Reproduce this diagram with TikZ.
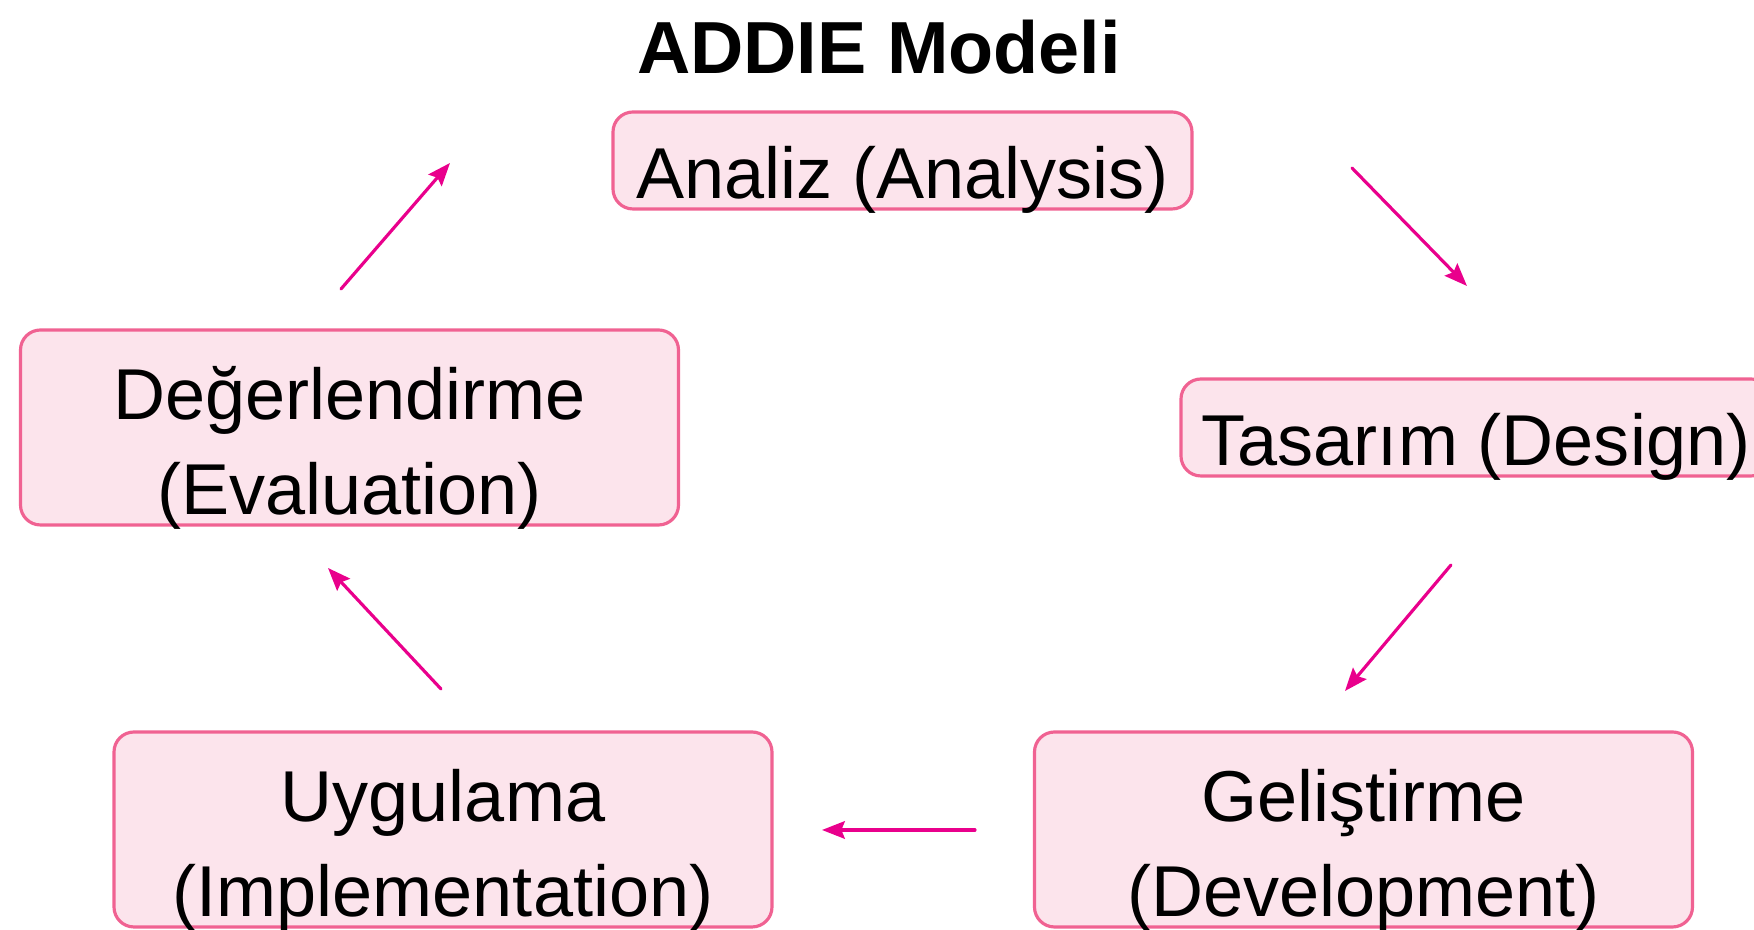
\documentclass[tikz,border=0pt]{standalone}
\usepackage{fontspec}
\setmainfont{Liberation Sans}
\usetikzlibrary{arrows.meta}
\definecolor{kutu}{RGB}{252,228,236}
\definecolor{kenar}{RGB}{240,98,146}
\definecolor{okrenk}{RGB}{233,0,140}
\begin{document}
\begin{tikzpicture}[line join=round,line cap=round,
	asama/.style={draw=kenar,fill=kutu,line width=0.9pt,rounded corners=0.2cm,inner sep=0pt,align=center,anchor=base,font=\fontsize{20.5}{27.2}\selectfont},
	tek/.style={asama,text height=0.87cm,text depth=0.10cm},
	cift/.style={asama,text height=1.85cm,text depth=0.10cm,minimum width=6.58cm},
	ok/.style={-{Stealth[length=6.5pt,width=5pt,inset=1pt]},draw=okrenk,line width=0.9pt}]
	\clip (0,0) rectangle (17.54,9.30);
	\node[font=\bfseries\fontsize{21}{25}\selectfont,anchor=base] (baslik) at (8.79,8.56) {ADDIE Modeli};
	%Asamalar
	\node[tek,minimum width=5.79cm] (analiz) at (9.025,7.31) {Analiz (Analysis)};
	\node[tek,minimum width=5.9cm] (tasarim) at (14.76,4.64) {Tasarım (Design)};
	\node[cift] (gelistirme) at (13.635,0.13) {Geliştirme\\(Development)};
	\node[cift] (uygulama) at (4.43,0.13) {Uygulama\\(Implementation)};
	\node[cift] (degerlendirme) at (3.495,4.15) {Değerlendirme\\(Evaluation)};
	%Oklar
	\path (13.52,7.62) coordinate (a1) (14.67,6.44) coordinate (t1)
		(14.51,3.65) coordinate (t2) (13.45,2.39) coordinate (g1)
		(9.75,1.00) coordinate (g2) (8.22,1.00) coordinate (u1)
		(4.41,2.41) coordinate (u2) (3.28,3.62) coordinate (d1)
		(3.41,6.41) coordinate (d2) (4.50,7.67) coordinate (a2);
	\draw[ok] (a1)--(t1);
	\draw[ok] (t2)--(g1);
	\draw[ok] (g2)--(u1);
	\draw[ok] (u2)--(d1);
	\draw[ok] (d2)--(a2);
\end{tikzpicture}
\end{document}
